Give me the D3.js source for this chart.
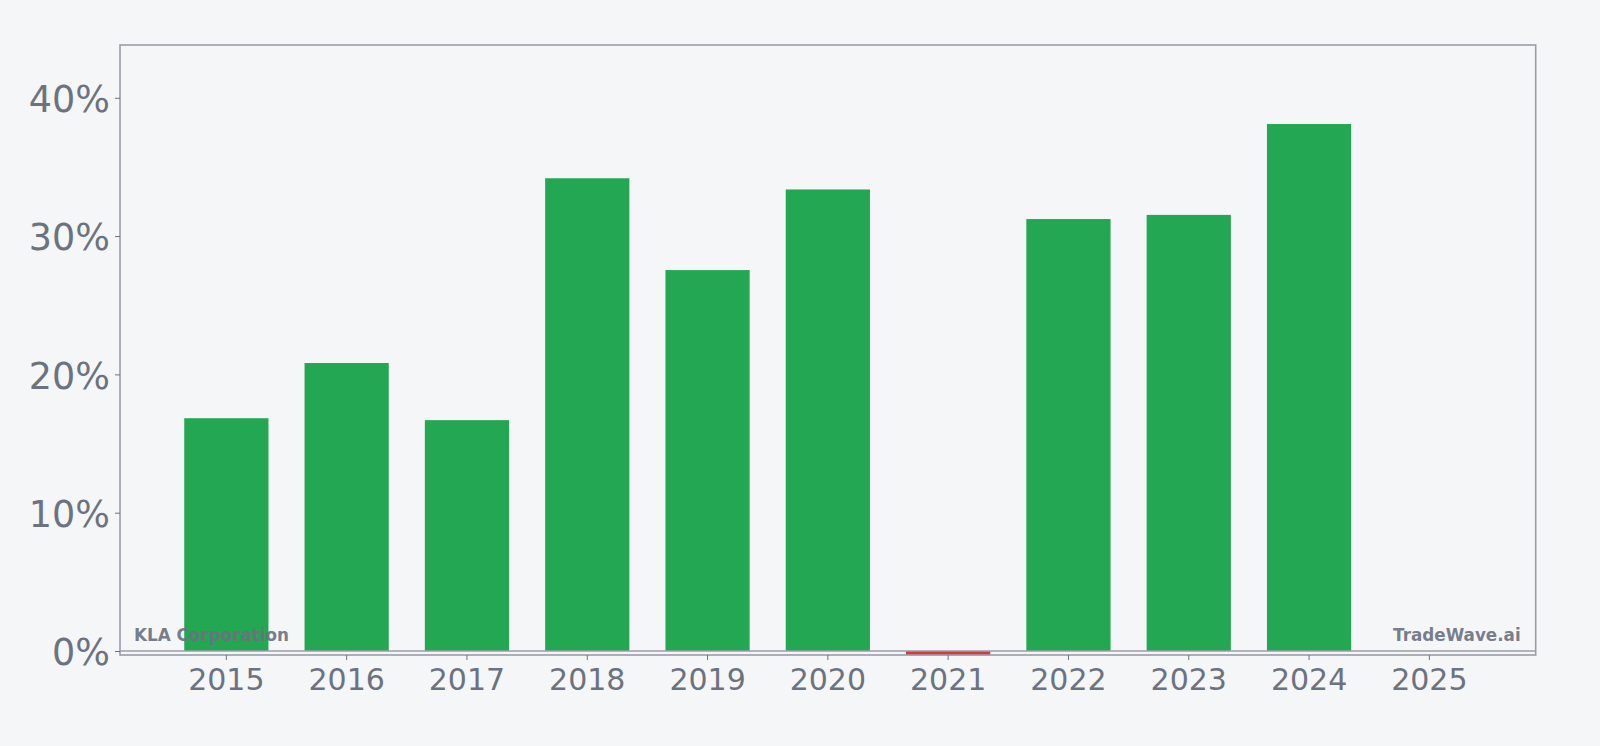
<!DOCTYPE html>
<html><head><meta charset="utf-8">
<script src="https://cdn.jsdelivr.net/npm/d3@7"></script>
<style>
html,body{margin:0;padding:0;background:#f5f6f8;}
svg{display:block;}
</style></head>
<body>
<svg id="chart" width="1600" height="746"></svg>
<script>
const years = ["2015","2016","2017","2018","2019","2020","2021","2022","2023","2024","2025"];
const values = [16.83, 20.82, 16.69, 34.18, 27.54, 33.37, -0.3, 31.23, 31.53, 38.1, null];
const yTicks = [0, 10, 20, 30, 40];
const company = "KLA Corporation";
const brand = "TradeWave.ai";

const svg = d3.select("#chart");
const W = 1600, H = 746;
const m = {left: 120, right: 64.3, top: 45, bottom: 91};
const x0 = m.left, x1 = W - m.right, y0 = m.top, y1 = H - m.bottom;

svg.append("rect").attr("width", W).attr("height", H).attr("fill", "#f5f6f8");

const x = d3.scaleBand().domain(years).range([x0, x1]).paddingInner(0.3).paddingOuter(0.534);
const y = d3.scaleLinear().domain([-0.29, 38.1 * 1.15]).range([y1, y0]);

const grey = "#6b7280";
const frame = "#9c9ca8";

// bars
svg.append("g").selectAll("rect")
  .data(years.map((d, i) => ({year: d, v: values[i]})).filter(d => d.v !== null))
  .join("rect")
  .attr("x", d => x(d.year))
  .attr("width", x.bandwidth())
  .attr("y", d => y(Math.max(0, d.v)))
  .attr("height", d => Math.abs(y(d.v) - y(0)))
  .attr("fill", d => d.v >= 0 ? "#23a752" : "#d63a40");

// zero line
svg.append("line").attr("x1", x0).attr("x2", x1).attr("y1", y(0)).attr("y2", y(0))
  .attr("stroke", frame).attr("stroke-width", 1.6);

// frame
svg.append("rect").attr("x", x0).attr("y", y0).attr("width", x1 - x0).attr("height", y1 - y0)
  .attr("fill", "none").attr("stroke", frame).attr("stroke-width", 1.6);

// y axis
const yAxis = svg.append("g").attr("transform", `translate(${x0},0)`)
  .call(d3.axisLeft(y).tickValues(yTicks).tickFormat(d => d + "%").tickSize(5).tickPadding(5));
yAxis.select(".domain").remove();
yAxis.selectAll("line").attr("stroke", grey).attr("stroke-width", 1);
yAxis.selectAll("text").attr("fill", grey).attr("font-family", "DejaVu Sans").attr("font-size", 36.5)
  .attr("dy", "0.38em");

// x axis
const xAxis = svg.append("g").attr("transform", `translate(0,${y1})`)
  .call(d3.axisBottom(x).tickSize(5).tickPadding(9));
xAxis.select(".domain").remove();
xAxis.selectAll("line").attr("stroke", grey).attr("stroke-width", 1);
xAxis.selectAll("text").attr("fill", grey).attr("font-family", "DejaVu Sans").attr("font-size", 30);

// watermarks
svg.append("text").attr("x", x0 + 14).attr("y", 641).text(company)
  .attr("font-family", "DejaVu Sans").attr("font-weight", "bold").attr("font-size", 16.8)
  .attr("fill", grey).attr("fill-opacity", 0.92);
svg.append("text").attr("x", x1 - 15).attr("y", 641).attr("text-anchor", "end").text(brand)
  .attr("font-family", "DejaVu Sans").attr("font-weight", "bold").attr("font-size", 16.8)
  .attr("fill", grey).attr("fill-opacity", 0.92);
</script>
</body></html>
